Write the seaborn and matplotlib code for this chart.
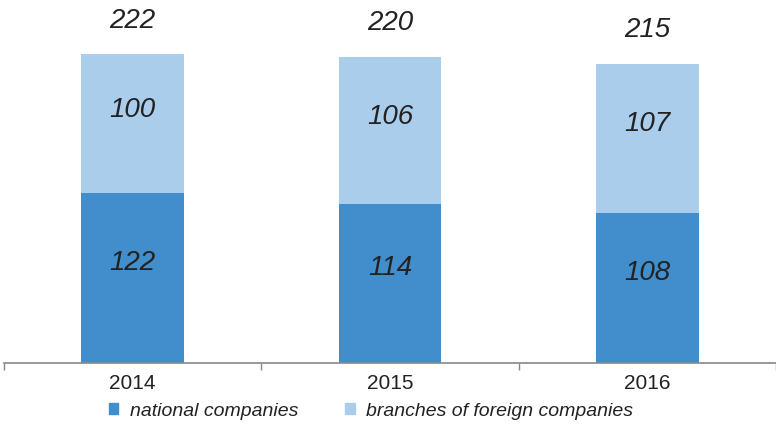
import matplotlib
matplotlib.use("Agg")
import matplotlib.pyplot as plt
import seaborn as sns
import pandas as pd
from matplotlib.patches import Patch

years = ["2014", "2015", "2016"]
national = [122, 114, 108]
foreign = [100, 106, 107]
totals = [222, 220, 215]

sns.set_theme(style="white")
plt.rcParams['font.family'] = ['Liberation Sans Narrow', 'Liberation Sans', 'DejaVu Sans']

c_dark = "#428dcb"
c_light = "#abcdec"
txt = "#222222"

fig = plt.figure(figsize=(7.76, 4.25), dpi=100)
ax = fig.add_axes([4/776, 1 - 363/425, 772/776, 363/425])

df_tot = pd.DataFrame({"year": years, "value": totals})
df_nat = pd.DataFrame({"year": years, "value": national})
sns.barplot(data=df_tot, x="year", y="value", color=c_light, width=0.4, ax=ax,
            saturation=1, linewidth=0)
sns.barplot(data=df_nat, x="year", y="value", color=c_dark, width=0.4, ax=ax,
            saturation=1, linewidth=0)

ax.set_ylim(0, 260.8)
ax.set_xlim(-0.5, 2.5)
for i in range(3):
    ax.text(i, national[i] / 2 + 11, str(national[i]), ha="center", va="center",
            fontsize=20, style="italic", color=txt)
    ax.text(i, national[i] + foreign[i] / 2 + 10, str(foreign[i]), ha="center", va="center",
            fontsize=20, style="italic", color=txt)
    ax.text(i, totals[i] + 24, str(totals[i]), ha="center", va="center",
            fontsize=20, style="italic", color=txt)

for s in ["top", "right", "left"]:
    ax.spines[s].set_visible(False)
ax.spines["bottom"].set_color("#888888")
ax.spines["bottom"].set_linewidth(1.2)
ax.set_yticks([])
ax.set_xlabel("")
ax.set_ylabel("")
ax.set_xticks([-0.5, 0.5, 1.5, 2.5], minor=False)
ax.set_xticklabels([])
ax.tick_params(axis="x", which="major", length=5, color="#888888", bottom=True, width=1)
ax.set_xticks([0, 1, 2], minor=True)
ax.set_xticklabels(years, minor=True, fontsize=15, color=txt)
ax.tick_params(axis="x", which="minor", length=0, pad=8)

handles = [Patch(color=c_dark, label="national companies"),
           Patch(color=c_light, label="branches of foreign companies")]
fig.legend(handles=handles, loc="center", bbox_to_anchor=(0.478, 1 - 411/425), ncol=2,
           frameon=False, prop={"size": 14, "style": "italic"}, handlelength=0.5,
           handleheight=0.5, handletextpad=0.6, columnspacing=2.4, labelcolor=txt)

fig.savefig("out.png", dpi=100)
